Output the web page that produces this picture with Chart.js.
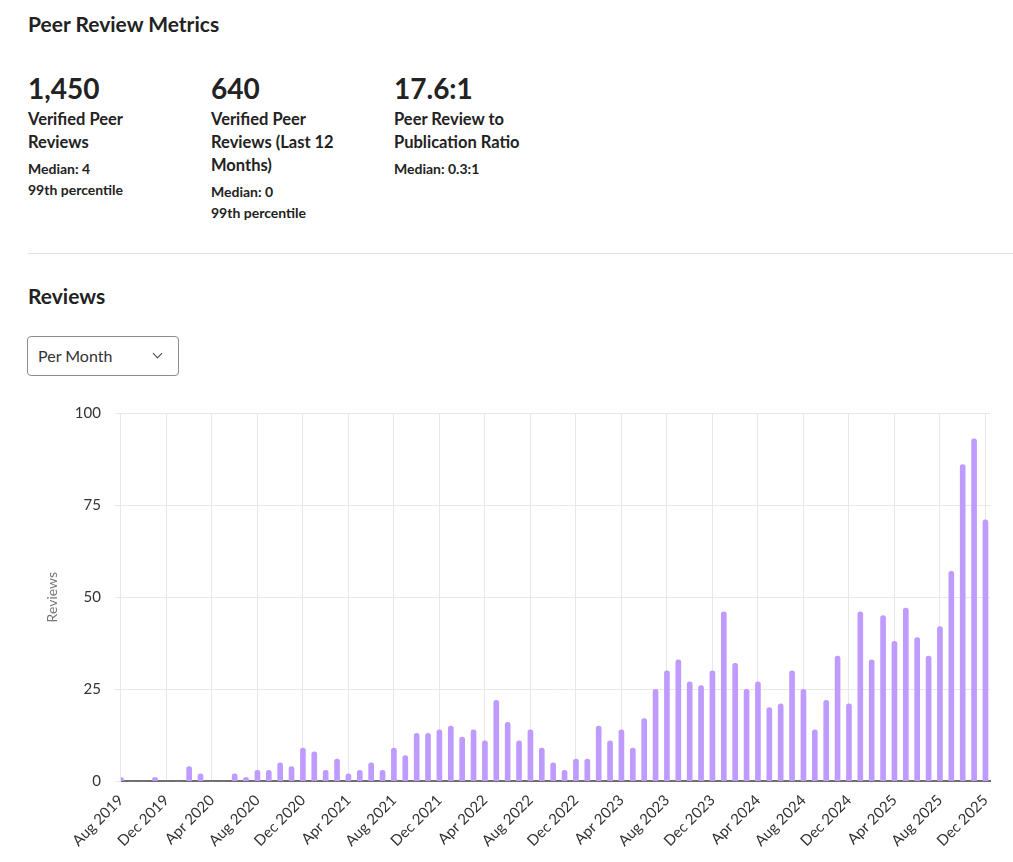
<!DOCTYPE html>
<html lang="en">
<head>
<meta charset="UTF-8">
<title>Peer Review Metrics</title>
<script src="https://cdn.jsdelivr.net/npm/chart.js"></script>
<style>
  body { margin: 0; background: #fff; font-family: Lato, "Noto Sans", sans-serif; color: #222; overflow: hidden; }
  .title { position: absolute; left: 28px; top: 12px; margin: 0; font-size: 21px; line-height: 24px; font-weight: 700; }
  .metrics { position: absolute; left: 28px; top: 72px; }
  .metric { float: left; width: 183px; }
  .metric .num { font-size: 28px; line-height: 32px; font-weight: 700; }
  .metric .lbl { width: 145px; margin-top: 4px; font-size: 16.5px; line-height: 23px; font-weight: 700; }
  .metric .sub { margin-top: 4px; font-size: 14px; line-height: 21px; font-weight: 700; }
  .rule { position: absolute; left: 28px; right: 0; top: 253px; border-top: 1px solid #e2e2e2; }
  .heading { position: absolute; left: 28px; top: 284px; margin: 0; font-size: 21px; line-height: 24px; font-weight: 700; }
  .select { position: absolute; left: 27px; top: 336px; width: 150px; height: 38px; border: 1px solid #8c8c8c; border-radius: 4px; }
  .select span { position: absolute; left: 10px; top: 9px; font-size: 16px; line-height: 20px; color: #333; }
  .select i { position: absolute; left: 126px; top: 13px; width: 6px; height: 6px; border-right: 1.6px solid #444; border-bottom: 1.6px solid #444; transform: rotate(45deg); }
  .chart-box { position: absolute; left: 28px; top: 390px; width: 985px; height: 472px; }
</style>
</head>
<body>
<h1 class="title">Peer Review Metrics</h1>
<div class="metrics">
  <div class="metric">
    <div class="num">1,450</div>
    <div class="lbl">Verified Peer Reviews</div>
    <div class="sub">Median: 4<br>99th percentile</div>
  </div>
  <div class="metric">
    <div class="num">640</div>
    <div class="lbl">Verified Peer Reviews (Last 12 Months)</div>
    <div class="sub">Median: 0<br>99th percentile</div>
  </div>
  <div class="metric">
    <div class="num">17.6:1</div>
    <div class="lbl">Peer Review to Publication Ratio</div>
    <div class="sub">Median: 0.3:1</div>
  </div>
</div>
<div class="rule"></div>
<h2 class="heading">Reviews</h2>
<div class="select"><span>Per Month</span><i></i></div>
<div class="chart-box"><canvas id="reviewsChart"></canvas></div>

<script>
    // months from Aug 2019 to Dec 2025
    const months = [
        'Aug 2019', 'Sep 2019', 'Oct 2019', 'Nov 2019', 'Dec 2019',
        'Jan 2020', 'Feb 2020', 'Mar 2020', 'Apr 2020', 'May 2020', 'Jun 2020', 'Jul 2020', 'Aug 2020', 'Sep 2020', 'Oct 2020', 'Nov 2020', 'Dec 2020',
        'Jan 2021', 'Feb 2021', 'Mar 2021', 'Apr 2021', 'May 2021', 'Jun 2021', 'Jul 2021', 'Aug 2021', 'Sep 2021', 'Oct 2021', 'Nov 2021', 'Dec 2021',
        'Jan 2022', 'Feb 2022', 'Mar 2022', 'Apr 2022', 'May 2022', 'Jun 2022', 'Jul 2022', 'Aug 2022', 'Sep 2022', 'Oct 2022', 'Nov 2022', 'Dec 2022',
        'Jan 2023', 'Feb 2023', 'Mar 2023', 'Apr 2023', 'May 2023', 'Jun 2023', 'Jul 2023', 'Aug 2023', 'Sep 2023', 'Oct 2023', 'Nov 2023', 'Dec 2023',
        'Jan 2024', 'Feb 2024', 'Mar 2024', 'Apr 2024', 'May 2024', 'Jun 2024', 'Jul 2024', 'Aug 2024', 'Sep 2024', 'Oct 2024', 'Nov 2024', 'Dec 2024',
        'Jan 2025', 'Feb 2025', 'Mar 2025', 'Apr 2025', 'May 2025', 'Jun 2025', 'Jul 2025', 'Aug 2025', 'Sep 2025', 'Oct 2025', 'Nov 2025', 'Dec 2025'
    ];

    const reviews = [
        1, 0, 0, 1, 0,
        0, 4, 2, 0, 0, 2, 1, 3, 3, 5, 4, 9,
        8, 3, 6, 2, 3, 5, 3, 9, 7, 13, 13, 14,
        15, 12, 14, 11, 22, 16, 11, 14, 9, 5, 3, 6,
        6, 15, 11, 14, 9, 17, 25, 30, 33, 27, 26, 30,
        46, 32, 25, 27, 20, 21, 30, 25, 14, 22, 34, 21,
        46, 33, 45, 38, 47, 39, 34, 42, 57, 86, 93, 71
    ];

    // labelled months (every 4th)
    const tickMonths = ['Aug 2019', 'Dec 2019', 'Apr 2020', 'Aug 2020', 'Dec 2020', 'Apr 2021', 'Aug 2021', 'Dec 2021', 'Apr 2022', 'Aug 2022',
        'Dec 2022', 'Apr 2023', 'Aug 2023', 'Dec 2023', 'Apr 2024', 'Aug 2024', 'Dec 2024', 'Apr 2025', 'Aug 2025', 'Dec 2025'];
    const yTicks = [0, 25, 50, 75, 100];

    const gridColor = '#e8e8e8';

    const ctx = document.getElementById('reviewsChart').getContext('2d');
    const reviewsChart = new Chart(ctx, {
        type: 'bar',
        data: {
            datasets: [{
                label: 'Reviews',
                data: reviews.map((v, i) => ({ x: i, y: v })),
                backgroundColor: '#bf9bff',
                barThickness: 5,
                borderRadius: 3,
                borderSkipped: 'start'
            }]
        },
        options: {
            responsive: true,
            maintainAspectRatio: false,
            animation: false,
            layout: { padding: { left: 16, right: 23, top: 8, bottom: 2 } },
            plugins: {
                legend: { display: false },
                tooltip: { enabled: false }
            },
            scales: {
                x: {
                    type: 'linear',
                    offset: false,
                    min: 0,
                    max: 76.4,
                    afterBuildTicks: (scale) => {
                        scale.ticks = tickMonths.map(m => ({ value: months.indexOf(m) }));
                    },
                    ticks: {
                        autoSkip: false,
                        minRotation: 45,
                        maxRotation: 45,
                        padding: 10,
                        color: '#333',
                        font: { family: 'Lato', size: 15 },
                        callback: (value) => months[value]
                    },
                    grid: { color: gridColor, drawTicks: false, offset: false },
                    border: { color: '#6e6e6e', width: 2 }
                },
                y: {
                    min: 0,
                    max: 100,
                    afterBuildTicks: (scale) => {
                        scale.ticks = yTicks.map(v => ({ value: v }));
                    },
                    ticks: {
                        padding: 14,
                        color: '#333',
                        font: { family: 'Lato', size: 15 }
                    },
                    grid: { color: gridColor, tickLength: 6 },
                    border: { color: gridColor },
                    title: {
                        display: true,
                        text: 'Reviews',
                        color: '#777',
                        font: { family: 'Lato', size: 14 },
                        padding: { top: 0, bottom: 0 }
                    }
                }
            }
        }
    });
</script>
</body>
</html>
